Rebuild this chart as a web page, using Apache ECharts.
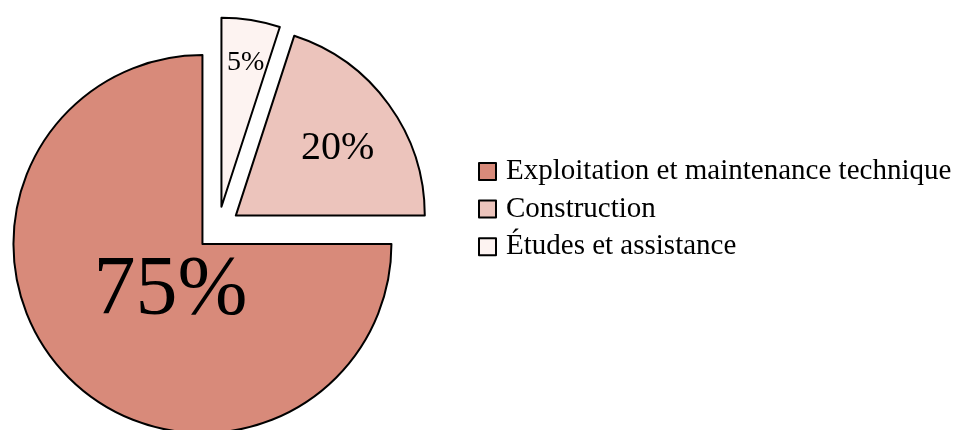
<!DOCTYPE html>
<html>
<head>
<meta charset="utf-8">
<script src="https://cdn.jsdelivr.net/npm/echarts@6/dist/echarts.min.js"></script>
<style>
  html, body { margin: 0; padding: 0; background: #fff; }
  #main { width: 960px; height: 430px; }
</style>
</head>
<body>
<div id="main"></div>
<script>
// categories and shares (%)
var categories = ['Exploitation et maintenance technique', 'Construction', 'Études et assistance'];
var shares = [75, 20, 5];

var colors = ['#D88A7A', '#ECC4BC', '#FDF3F1'];
var labelSizes = [84, 40, 28];
var labelShift = [[37, -21], [23, -10], [9, -48]];

var myChart = echarts.init(document.getElementById('main'));

var font = '"Liberation Serif", "DejaVu Serif", serif';

myChart.setOption({
  animation: false,
  legend: {
    orient: 'vertical',
    left: 473,
    top: 152,
    itemWidth: 17,
    itemHeight: 17,
    itemGap: 8.6,
    icon: 'rect',
    selectedMode: false,
    itemStyle: { borderColor: '#000', borderWidth: 2 },
    textStyle: {
      fontFamily: font, fontSize: 29, lineHeight: 17, color: '#000',
      padding: [0, 0, 7, 5]
    },
    data: categories
  },
  series: [{
    type: 'pie',
    center: [218, 228.5],
    radius: 189,
    startAngle: 90,
    clockwise: false,
    selectedMode: 'multiple',
    selectedOffset: 22,
    itemStyle: { borderColor: '#000', borderWidth: 2 },
    label: {
      show: true,
      position: 'inside',
      fontFamily: font,
      color: '#000',
      formatter: function (p) { return p.value + '%'; }
    },
    labelLayout: function (p) {
      return { dx: labelShift[p.dataIndex][0], dy: labelShift[p.dataIndex][1] };
    },
    emphasis: { disabled: true },
    data: categories.map(function (name, i) {
      return {
        name: name,
        value: shares[i],
        selected: true,
        itemStyle: { color: colors[i] },
        label: { fontSize: labelSizes[i] }
      };
    })
  }]
});
</script>
</body>
</html>
